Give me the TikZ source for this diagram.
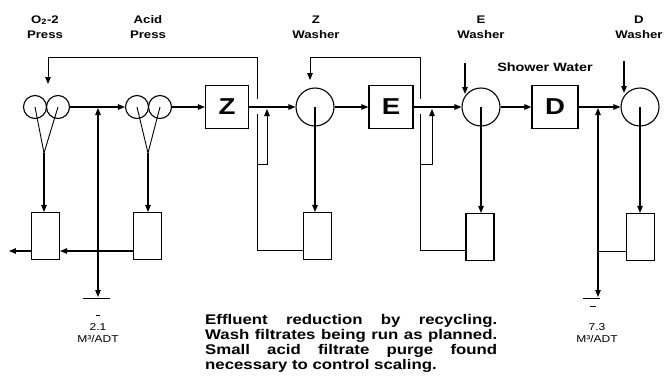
\documentclass[tikz,border=0pt]{standalone}
\usepackage{fontspec}
\setmainfont{Liberation Sans}
\newfontfamily\flowfont[FakeStretch=1.2]{Liberation Sans}
\usetikzlibrary{arrows.meta,calc}
\tikzset{
	press roll/.style={circle, minimum size=23pt, inner sep=0pt, draw=black, line width=1.1pt},
	washer drum/.style={circle, minimum size=38pt, inner sep=0pt, draw=black, line width=1.1pt},
	stage box/.style={rectangle, minimum width=43pt, minimum height=43pt, inner sep=0pt, draw=black, line width=1.2pt, font=\flowfont\bfseries\fontsize{23}{25}\selectfont},
	filtrate tank/.style={rectangle, minimum width=28pt, minimum height=47pt, inner sep=0pt, draw=black, line width=1.1pt},
	flow/.style={line width=1.1pt, -{Triangle[length=7pt,width=5.5pt]}},
	plain line/.style={line width=0.9pt},
	top label/.style={align=center, inner sep=0pt, font=\flowfont\bfseries\fontsize{11}{15}\selectfont},
	rate label/.style={align=center, inner sep=0pt, font=\flowfont\fontsize{10}{11.5}\selectfont},
}
\begin{document}
\begin{tikzpicture}[x=1pt, y=-1pt]
				\useasboundingbox (0,0) rectangle (664,386);
				\node[top label] (o2lab) at (45,27) {O\textsubscript{2}-2\\Press};
				\node[top label] (aclab) at (148,27) {Acid\\Press};
				\node[top label] (zlab) at (316,27) {Z\\Washer};
				\node[top label] (elab) at (481,27) {E\\Washer};
				\node[top label] (dlab) at (639,27) {D\\Washer};
				\node[top label, font=\flowfont\bfseries\fontsize{12}{14}\selectfont] (shower) at (545,67) {Shower Water};
				\node[press roll] (o2a) at (35,107) {};
				\node[press roll] (o2b) at (58,107) {};
				\node[press roll] (aca) at (137,107) {};
				\node[press roll] (acb) at (160,107) {};
				\node[stage box] (zbox) at (227,107) {Z};
				\node[washer drum] (zwash) at (315,107) {};
				\node[stage box, minimum width=44pt] (ebox) at (391,107) {E};
				\node[washer drum] (ewash) at (481,107) {};
				\node[stage box, minimum width=46pt] (dbox) at (555,107) {D};
				\node[washer drum] (dwash) at (640,107) {};
				\node[filtrate tank] (o2tank) at (45.5,236) {};
				\node[filtrate tank] (actank) at (147.5,236) {};
				\node[filtrate tank] (ztank) at (317.5,236) {};
				\node[filtrate tank] (etank) at (480,237) {};
				\node[filtrate tank] (dtank) at (640.5,237) {};
				\draw[flow] (o2b) -- (aca);
				\draw[flow] (acb) -- (zbox);
				\draw[flow] (zbox) -- (zwash);
				\draw[flow] (zwash) -- (ebox);
				\draw[flow] (ebox) -- (ewash);
				\draw[flow] (ewash) -- (dbox);
				\draw[flow] (dbox) -- (dwash);
				\coordinate (o2v) at (44,153);
				\coordinate (acv) at (148,153);
				\draw[plain line] (o2a.center) -- (o2v) -- (o2b.center);
				\draw[plain line] (aca.center) -- (acv) -- (acb.center);
				\draw[flow] (o2v) -- (o2v |- o2tank.north);
				\draw[flow] (acv) -- (acv |- actank.north);
				\draw[flow] (zwash.center) -- (zwash.center |- ztank.north);
				\draw[flow] (ewash.center) -- (ewash.center |- etank.north);
				\draw[flow] (dwash.center) -- (dwash.center |- dtank.north);
				\draw[flow] ([yshift=-15pt]actank.west) -- ([yshift=-15pt]o2tank.east);
				\draw[flow] ([yshift=-15pt]o2tank.west) -- ++(-22,0);
				\coordinate (purge1) at (98,251);
				\coordinate (mix1) at (98,108);
				\coordinate (drain1) at (98,297);
				\draw[flow] (purge1) -- (mix1);
				\draw[flow] (purge1) -- (drain1);
				\draw[plain line] ([xshift=-15pt,yshift=-1pt]drain1) -- ([xshift=12pt,yshift=-1pt]drain1);
				\draw[plain line] ([xshift=-2pt,yshift=-18pt]drain1) -- ([xshift=2pt,yshift=-18pt]drain1);
				\coordinate (zlow) at (257,114);
				\coordinate (zup) at (257,99);
				\coordinate (zj) at (257,164);
				\coordinate (zmix) at (267,109);
				\coordinate (o2top) at (48,57);
				\coordinate (o2in) at (48,84);
				\draw[plain line] ([yshift=-14pt]ztank.west) -| (zlow);
				\draw[flow, line width=0.9pt] (zup) |- (o2top) -- (o2in);
				\draw[flow, line width=0.9pt] (zj) -| (zmix);
				\coordinate (elow) at (420,114);
				\coordinate (eup) at (420,99);
				\coordinate (ej) at (420,164);
				\coordinate (emix) at (432,109);
				\coordinate (ztop) at (310,57);
				\coordinate (zin) at (310,80);
				\draw[plain line] ([yshift=-13pt]etank.west) -| (elow);
				\draw[flow, line width=0.9pt] (eup) |- (ztop) -- (zin);
				\draw[flow, line width=0.9pt] (ej) -| (emix);
				\coordinate (eshow) at (465,63);
				\coordinate (ein) at (465,94);
				\coordinate (dshow) at (624,61);
				\coordinate (din) at (624,93);
				\draw[flow] (eshow) -- (ein);
				\draw[flow] (dshow) -- (din);
				\coordinate (purge2) at (598,251);
				\coordinate (mix2) at (598,108);
				\coordinate (drain2) at (598,297);
				\draw[plain line] ([yshift=-14pt]dtank.west) -- (purge2);
				\draw[flow] (purge2) -- (mix2);
				\draw[flow] (purge2) -- (drain2);
				\draw[plain line] ([xshift=-15pt,yshift=-1pt]drain2) -- ([xshift=2pt,yshift=-1pt]drain2);
				\draw[plain line] ([xshift=-8pt,yshift=-9pt]drain2) -- ([xshift=-2pt,yshift=-9pt]drain2);
				\node[rate label] (rate1) at (98,333) {2.1\\M³/ADT};
				\node[rate label] (rate2) at (597,333) {7.3\\M³/ADT};
				\node[anchor=north west, inner sep=0pt, text width=292pt, align=justify, font=\flowfont\bfseries\fontsize{14}{15}\selectfont] (note) at (205,314) {Effluent reduction by recycling.\linebreak Wash filtrates being run as planned.\linebreak Small acid filtrate purge found\linebreak necessary to control scaling.};
			\end{tikzpicture}
\end{document}
